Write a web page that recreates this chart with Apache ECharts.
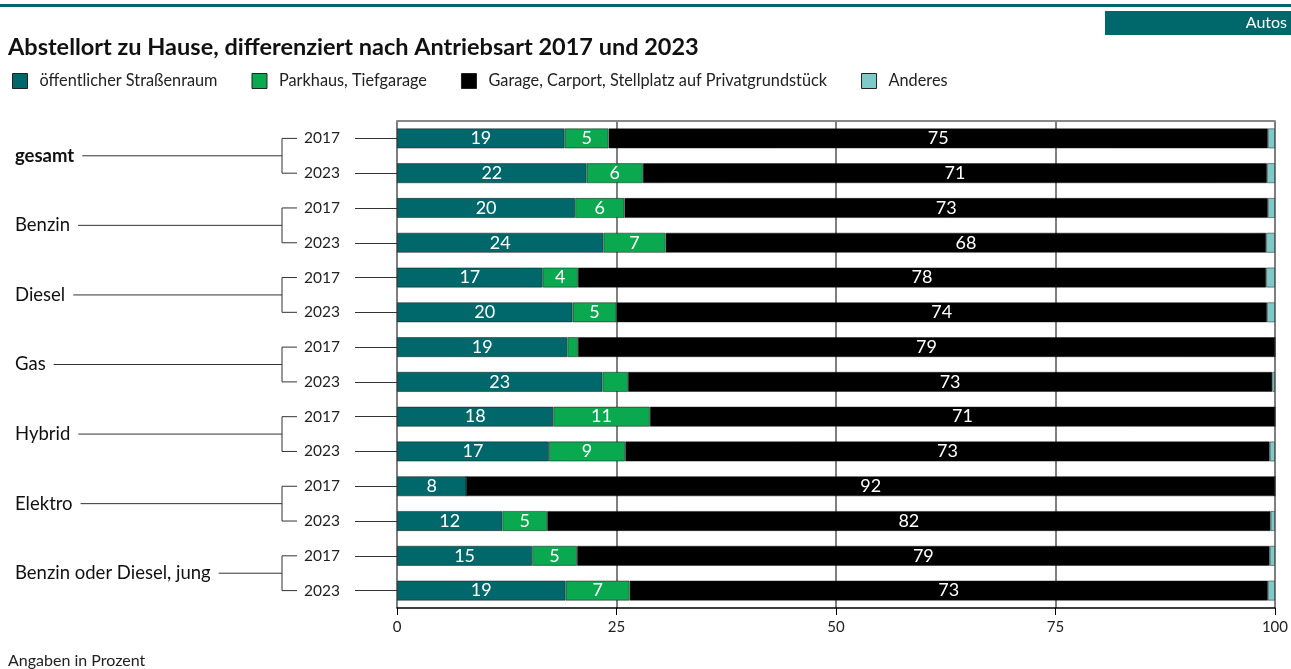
<!DOCTYPE html>
<html><head><meta charset="utf-8">
<script src="https://cdn.jsdelivr.net/npm/echarts@6/dist/echarts.min.js"></script>
<style>html,body{margin:0;padding:0;background:#fff}#c{width:1291px;height:669px}</style>
</head><body><div id="c"></div>
<script>
const groups = ['gesamt','Benzin','Diesel','Gas','Hybrid','Elektro','Benzin oder Diesel, jung'];
const years = ['2017','2023'];
const categories = ['2017','2023','2017','2023','2017','2023','2017','2023','2017','2023','2017','2023','2017','2023'];
const strasse  = [19.1,21.6,20.3,23.5,16.6,20.0,19.4,23.4,17.8,17.3, 7.9,12.0,15.4,19.2];
const parkhaus = [ 5.0, 6.4, 5.6, 7.1, 4.0, 5.0, 1.2, 2.9,11.0, 8.7, 0.0, 5.1, 5.1, 7.3];
const garage   = [75.1,71.1,73.3,68.4,78.4,74.1,79.4,73.4,71.2,73.4,92.1,82.4,78.9,72.7];
const anderes  = [ 0.8, 0.9, 0.8, 1.0, 1.0, 0.9, 0.0, 0.3, 0.0, 0.6, 0.0, 0.5, 0.6, 0.8];
const xTicks = [0,25,50,75,100];
const seriesNames = ['öffentlicher Straßenraum','Parkhaus, Tiefgarage','Garage, Carport, Stellplatz auf Privatgrundstück','Anderes'];
const colors = ['#00686b','#0aa84f','#000000','#7ecac8'];
const FONT = 'Lato';

const chart = echarts.init(document.getElementById('c'));
const values = [strasse, parkhaus, garage, anderes];
const series = values.map((arr,i)=>({
  name: seriesNames[i], type:'bar', stack:'s', barWidth:20,
  data: arr,
  itemStyle:{color:colors[i], borderColor:'rgba(20,20,20,0.6)', borderWidth:0.8},
  label:{show:i<3, position:'inside', color:'#fff', fontFamily:FONT, fontSize:18,
    formatter:p=> p.value>=3.5 ? String(Math.round(p.value)) : ''},
  emphasis:{disabled:true}, animation:false
}));
chart.setOption({
  animation:false,
  textStyle:{fontFamily:FONT},
  grid:{left:397,right:16,top:121,bottom:61,containLabel:false},
  legend:{left:7,top:68,itemWidth:15,itemHeight:15,itemGap:34,icon:'rect',
    textStyle:{fontFamily:FONT,fontSize:16.3,color:'#222',padding:[0,0,0,7]},
    itemStyle:{borderColor:'#222',borderWidth:1},
    data:seriesNames},
  xAxis:[{type:'value',min:0,max:100,interval:25,position:'bottom',
    axisLine:{show:true,lineStyle:{color:'#000',width:1.5}},
    axisTick:{show:true,length:7,lineStyle:{color:'#000'}},
    axisLabel:{fontFamily:FONT,fontSize:15,color:'#222',margin:12,formatter:v=>xTicks.includes(v)?String(v):''},
    splitLine:{show:true,lineStyle:{color:'#555',width:1.5}}},
   {type:'value',min:0,max:100,position:'top',axisLine:{show:true,lineStyle:{color:'#888',width:2}},
    axisTick:{show:false},axisLabel:{show:false},splitLine:{show:false}}],
  yAxis:{type:'category',inverse:true,data:categories,
    axisLine:{show:false},
    axisTick:{show:true,alignWithLabel:true,length:42,lineStyle:{color:'#333'}},
    axisLabel:{fontFamily:FONT,fontSize:15.5,color:'#222',margin:57}},
  series: series,
  graphic:[]
});

function build(){
  const g = [];
  g.push({type:'rect',shape:{x:0,y:4,width:1291,height:3},style:{fill:'#00686b'}});
  g.push({type:'rect',shape:{x:1105,y:11,width:186,height:24},style:{fill:'#00686b'}});
  g.push({type:'text',style:{text:'Autos',x:1287,y:23,align:'right',verticalAlign:'middle',fill:'#fff',font:'16px '+FONT}});
  g.push({type:'text',style:{text:'Abstellort zu Hause, differenziert nach Antriebsart 2017 und 2023',x:8,y:47,verticalAlign:'middle',fill:'#111',font:'bold 23.5px '+FONT}});
  g.push({type:'text',style:{text:'Angaben in Prozent',x:8,y:661,verticalAlign:'middle',fill:'#222',font:'16px '+FONT}});
  const bx = 282, bx2 = 297;
  const ctx = document.createElement('canvas').getContext('2d');
  groups.forEach((name,gi)=>{
    const y1 = chart.convertToPixel({yAxisIndex:0}, gi*2);
    const y2 = chart.convertToPixel({yAxisIndex:0}, gi*2+1);
    const ym = (y1+y2)/2;
    const ls = {stroke:'#333',lineWidth:1};
    g.push({type:'polyline',shape:{points:[[bx2,y1],[bx,y1],[bx,y2],[bx2,y2]]},style:Object.assign({fill:null},ls)});
    const font = (gi===0?'bold ':'')+'18.5px '+FONT;
    g.push({type:'text',style:{text:name,x:15,y:ym,verticalAlign:'middle',fill:'#111',font:font}});
    ctx.font = font;
    const tw = ctx.measureText(name).width;
    g.push({type:'line',shape:{x1:15+tw+8,y1:ym,x2:bx,y2:ym},style:ls});
  });
  chart.setOption({graphic:g});
}
build();
</script></body></html>
